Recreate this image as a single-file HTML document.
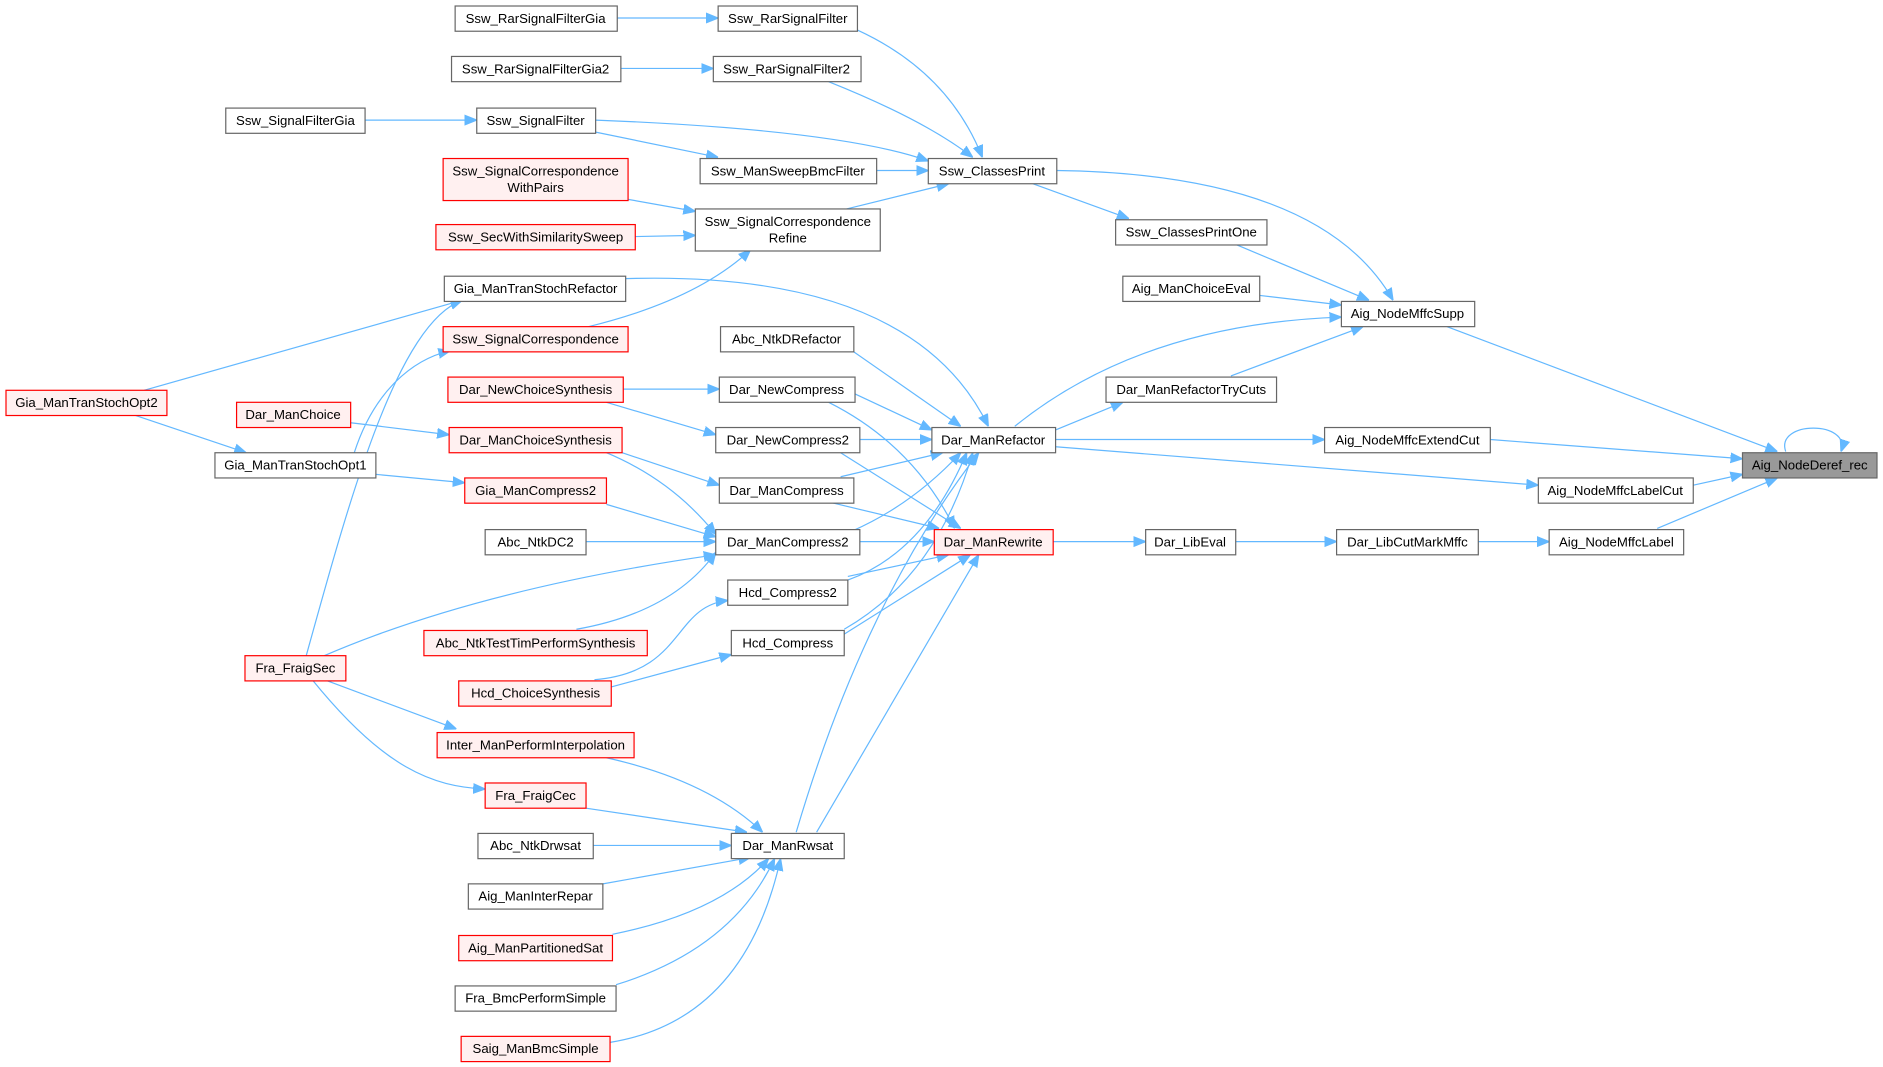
<!DOCTYPE html>
<html><head><meta charset="utf-8"><style>
html,body{margin:0;padding:0;background:#fff;}
svg{display:block}
text{font-family:"Liberation Sans",Arial,sans-serif;font-size:11px;fill:#000;text-anchor:middle;}
.n{fill:#fff;stroke:#666;stroke-width:1}
.r{fill:#fff0f0;stroke:#f00;stroke-width:1}
.g{fill:#999;stroke:#666;stroke-width:1}
path{fill:none;stroke:#63b8ff;stroke-width:1;marker-end:url(#a)}
</style></head><body>
<svg width="1883" height="1067" viewBox="0 0 1568 888.5" xmlns="http://www.w3.org/2000/svg">
<defs><marker id="a" viewBox="0 0 10 10" refX="10" refY="5" markerWidth="10" markerHeight="10" markerUnits="userSpaceOnUse" orient="auto"><path d="M0,1 L10,5 L0,9 z" style="fill:#63b8ff;stroke:#63b8ff;marker-end:none"/></marker></defs>
<g>
<path d="M514,15 L598,15"/>
<path d="M517,57 L594,57"/>
<path d="M304,100 L397,100"/>
<path d="M714,25 Q790,60 818,131"/>
<path d="M690,68 Q770,100 810,131"/>
<path d="M496,100 Q700,108 773,134"/>
<path d="M496,110 L598,131"/>
<path d="M730,142 L773,142"/>
<path d="M705,174 L790,153"/>
<path d="M523,166 L579,176"/>
<path d="M529,197 L579,196"/>
<path d="M490,272 Q580,250 625,208"/>
<path d="M880,142 Q1100,145 1160,250"/>
<path d="M860,153 L940,182"/>
<path d="M1030,204 L1140,250"/>
<path d="M1049,246 L1117,254"/>
<path d="M1205,272 L1480,376"/>
<path d="M845,355 Q950,270 1117,264"/>
<path d="M1025,313 L1135,272"/>
<path d="M879,358 L935,335"/>
<path d="M879,366 L1103,366"/>
<path d="M1241,366 L1451,382"/>
<path d="M879,372 L1281,404"/>
<path d="M1410,404 L1451,395"/>
<path d="M1380,440 L1480,398"/>
<path d="M1231,451 L1290,451"/>
<path d="M1029,451 L1113,451"/>
<path d="M877,451 L954,451"/>
<path d="M1487,376 C1478,350 1542,350 1533,376"/>
<path d="M521,232 Q760,225 823,355"/>
<path d="M711,293 L800,355"/>
<path d="M712,328 L776,358"/>
<path d="M690,335 Q760,370 795,440"/>
<path d="M716,366 L776,366"/>
<path d="M700,377 L800,440"/>
<path d="M700,397 L785,377"/>
<path d="M690,418 L782,440"/>
<path d="M716,451 L778,451"/>
<path d="M710,442 Q760,420 800,377"/>
<path d="M706,480 L790,462"/>
<path d="M706,483 Q770,460 805,377"/>
<path d="M703,528 L808,462"/>
<path d="M703,524 Q780,480 810,377"/>
<path d="M663,693 Q720,500 815,377"/>
<path d="M680,693 L815,462"/>
<path d="M519,324 L599,324"/>
<path d="M505,335 L596,362"/>
<path d="M518,377 L599,404"/>
<path d="M505,377 Q560,400 596,445"/>
<path d="M505,420 L596,447"/>
<path d="M488,451 L596,451"/>
<path d="M480,524 Q560,510 596,460"/>
<path d="M270,546 Q400,490 596,462"/>
<path d="M255,546 C290,420 330,270 385,250"/>
<path d="M120,325 L385,250"/>
<path d="M110,345 L205,377"/>
<path d="M313,395 L387,402"/>
<path d="M292,352 L374,362"/>
<path d="M295,377 C310,330 340,300 375,292"/>
<path d="M495,566 C570,560 560,505 606,500"/>
<path d="M509,572 L609,545"/>
<path d="M270,566 L380,607"/>
<path d="M260,566 C320,640 360,655 404,657"/>
<path d="M505,631 Q590,650 635,693"/>
<path d="M488,673 L622,693"/>
<path d="M494,704 L609,704"/>
<path d="M502,736 L625,714"/>
<path d="M510,778 Q600,760 640,715"/>
<path d="M513,820 Q610,790 645,715"/>
<path d="M508,868 Q620,850 650,715"/>
</g>
<g>
<rect class="g" x="1451" y="377" width="112" height="21"/><text x="1507" y="391">Aig_NodeDeref_rec</text>
<rect class="n" x="1117" y="251" width="111" height="21"/><text x="1172" y="265">Aig_NodeMffcSupp</text>
<rect class="n" x="1103" y="356" width="138" height="21"/><text x="1172" y="370">Aig_NodeMffcExtendCut</text>
<rect class="n" x="1281" y="398" width="129" height="21"/><text x="1345" y="412">Aig_NodeMffcLabelCut</text>
<rect class="n" x="1290" y="441" width="112" height="21"/><text x="1346" y="455">Aig_NodeMffcLabel</text>
<rect class="n" x="1113" y="441" width="118" height="21"/><text x="1172" y="455">Dar_LibCutMarkMffc</text>
<rect class="n" x="954" y="441" width="75" height="21"/><text x="991" y="455">Dar_LibEval</text>
<rect class="n" x="929" y="183" width="126" height="21"/><text x="992" y="197">Ssw_ClassesPrintOne</text>
<rect class="n" x="935" y="230" width="114" height="21"/><text x="992" y="244">Aig_ManChoiceEval</text>
<rect class="n" x="921" y="314" width="142" height="21"/><text x="992" y="328">Dar_ManRefactorTryCuts</text>
<rect class="n" x="773" y="132" width="107" height="21"/><text x="826" y="146">Ssw_ClassesPrint</text>
<rect class="n" x="776" y="356" width="103" height="21"/><text x="827" y="370">Dar_ManRefactor</text>
<rect class="r" x="778" y="441" width="99" height="21"/><text x="827" y="455">Dar_ManRewrite</text>
<rect class="n" x="598" y="5" width="116" height="21"/><text x="656" y="19">Ssw_RarSignalFilter</text>
<rect class="n" x="594" y="47" width="123" height="21"/><text x="655" y="61">Ssw_RarSignalFilter2</text>
<rect class="n" x="397" y="90" width="99" height="21"/><text x="446" y="104">Ssw_SignalFilter</text>
<rect class="n" x="583" y="132" width="147" height="21"/><text x="656" y="146">Ssw_ManSweepBmcFilter</text>
<rect class="n" x="579" y="174" width="154" height="35"/><text x="656" y="188">Ssw_SignalCorrespondence</text><text x="656" y="202">Refine</text>
<rect class="n" x="600" y="272" width="111" height="21"/><text x="655" y="286">Abc_NtkDRefactor</text>
<rect class="n" x="599" y="314" width="113" height="21"/><text x="655" y="328">Dar_NewCompress</text>
<rect class="n" x="596" y="356" width="120" height="21"/><text x="656" y="370">Dar_NewCompress2</text>
<rect class="n" x="599" y="398" width="112" height="21"/><text x="655" y="412">Dar_ManCompress</text>
<rect class="n" x="596" y="441" width="120" height="21"/><text x="656" y="455">Dar_ManCompress2</text>
<rect class="n" x="606" y="483" width="100" height="21"/><text x="656" y="497">Hcd_Compress2</text>
<rect class="n" x="609" y="525" width="94" height="21"/><text x="656" y="539">Hcd_Compress</text>
<rect class="n" x="609" y="694" width="94" height="21"/><text x="656" y="708">Dar_ManRwsat</text>
<rect class="n" x="379" y="5" width="135" height="21"/><text x="446" y="19">Ssw_RarSignalFilterGia</text>
<rect class="n" x="376" y="47" width="141" height="21"/><text x="446" y="61">Ssw_RarSignalFilterGia2</text>
<rect class="n" x="188" y="90" width="116" height="21"/><text x="246" y="104">Ssw_SignalFilterGia</text>
<rect class="r" x="369" y="132" width="154" height="35"/><text x="446" y="146">Ssw_SignalCorrespondence</text><text x="446" y="160">WithPairs</text>
<rect class="r" x="363" y="187" width="166" height="21"/><text x="446" y="201">Ssw_SecWithSimilaritySweep</text>
<rect class="n" x="370" y="230" width="151" height="21"/><text x="446" y="244">Gia_ManTranStochRefactor</text>
<rect class="r" x="369" y="272" width="154" height="21"/><text x="446" y="286">Ssw_SignalCorrespondence</text>
<rect class="r" x="373" y="314" width="146" height="21"/><text x="446" y="328">Dar_NewChoiceSynthesis</text>
<rect class="r" x="374" y="356" width="144" height="21"/><text x="446" y="370">Dar_ManChoiceSynthesis</text>
<rect class="r" x="387" y="398" width="118" height="21"/><text x="446" y="412">Gia_ManCompress2</text>
<rect class="n" x="404" y="441" width="84" height="21"/><text x="446" y="455">Abc_NtkDC2</text>
<rect class="r" x="353" y="525" width="186" height="21"/><text x="446" y="539">Abc_NtkTestTimPerformSynthesis</text>
<rect class="r" x="382" y="567" width="127" height="21"/><text x="446" y="581">Hcd_ChoiceSynthesis</text>
<rect class="r" x="364" y="610" width="164" height="21"/><text x="446" y="624">Inter_ManPerformInterpolation</text>
<rect class="r" x="404" y="652" width="84" height="21"/><text x="446" y="666">Fra_FraigCec</text>
<rect class="n" x="398" y="694" width="96" height="21"/><text x="446" y="708">Abc_NtkDrwsat</text>
<rect class="n" x="390" y="736" width="112" height="21"/><text x="446" y="750">Aig_ManInterRepar</text>
<rect class="r" x="382" y="779" width="128" height="21"/><text x="446" y="793">Aig_ManPartitionedSat</text>
<rect class="n" x="379" y="821" width="134" height="21"/><text x="446" y="835">Fra_BmcPerformSimple</text>
<rect class="r" x="384" y="863" width="124" height="21"/><text x="446" y="877">Saig_ManBmcSimple</text>
<rect class="r" x="197" y="335" width="95" height="21"/><text x="244" y="349">Dar_ManChoice</text>
<rect class="n" x="179" y="377" width="134" height="21"/><text x="246" y="391">Gia_ManTranStochOpt1</text>
<rect class="r" x="204" y="546" width="84" height="21"/><text x="246" y="560">Fra_FraigSec</text>
<rect class="r" x="5" y="325" width="134" height="21"/><text x="72" y="339">Gia_ManTranStochOpt2</text>
</g>
</svg>
</body></html>
